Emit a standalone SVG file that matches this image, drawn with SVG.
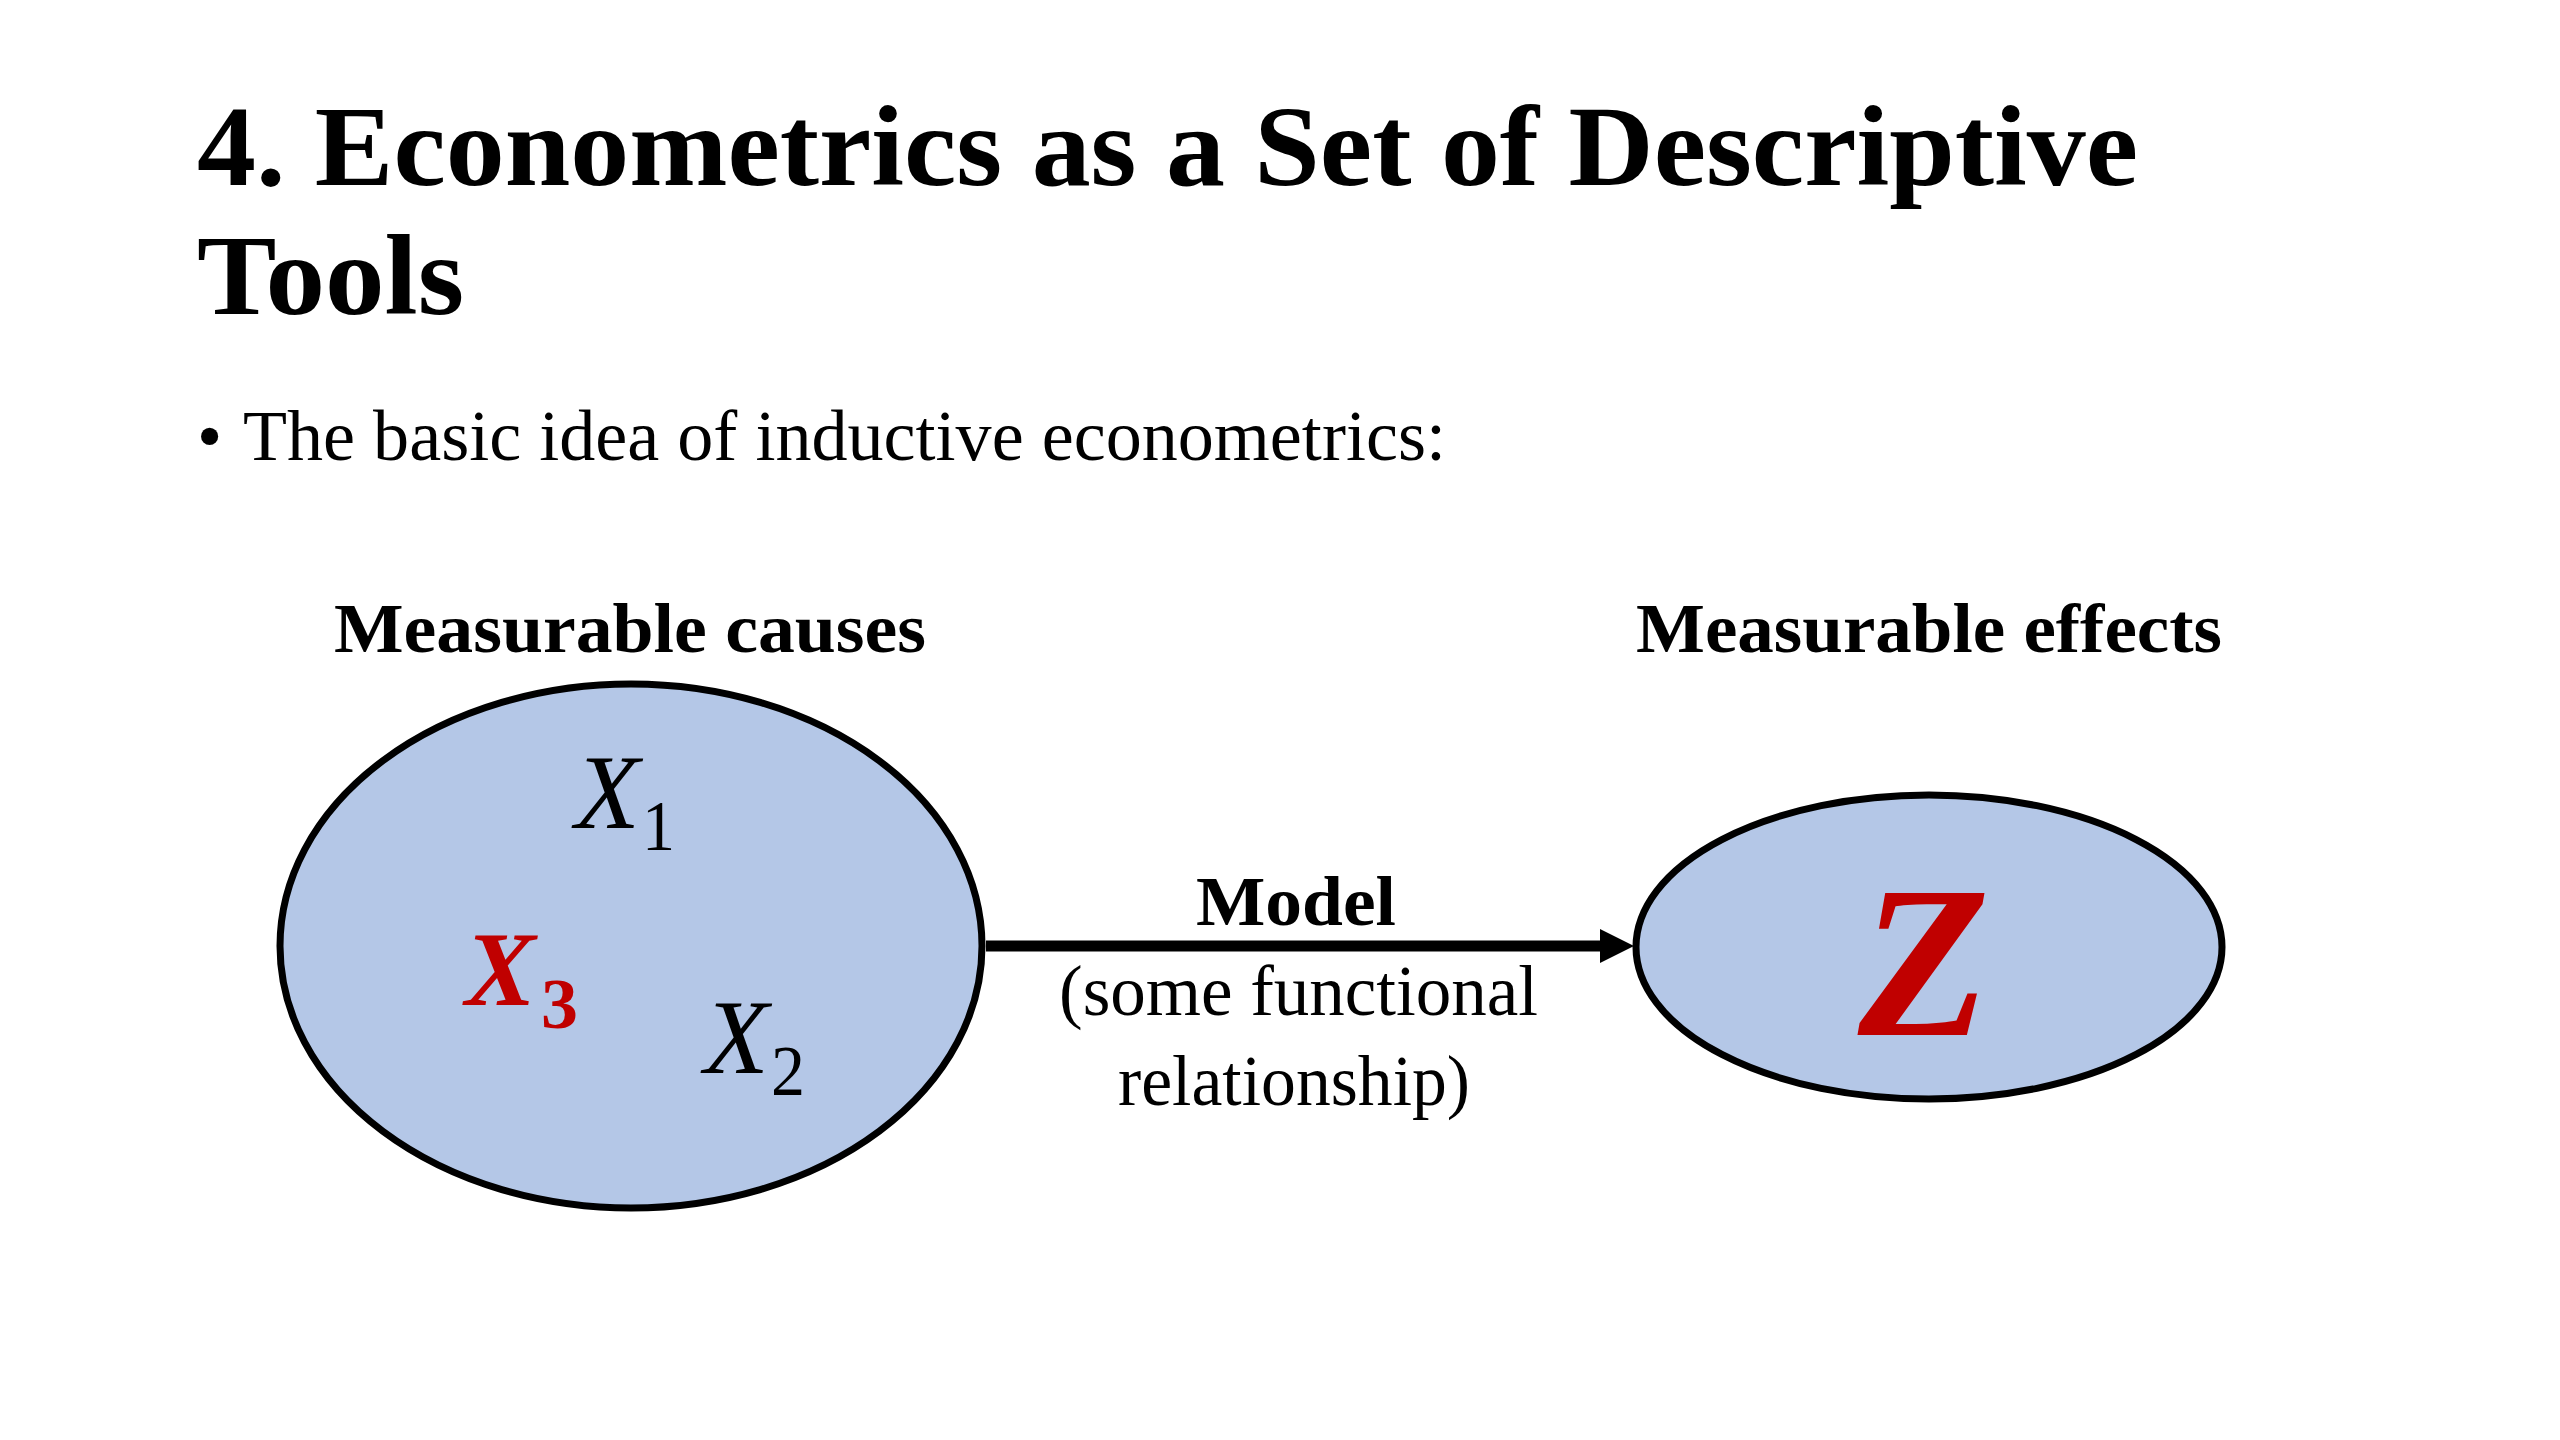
<svg xmlns="http://www.w3.org/2000/svg" width="2560" height="1440" viewBox="0 0 2560 1440">
<style>
  .serif { font-family: "Liberation Serif", "DejaVu Serif", serif; fill: #000; }
  .title { font-size: 114px; font-weight: bold; }
  .body { font-size: 72px; }
  .label { font-size: 70px; font-weight: bold; }
  .node { fill: #B4C7E7; stroke: #000; stroke-width: 7; }
  .var { font-size: 106px; font-style: italic; }
  .sub { font-size: 72px; }
  .red { fill: #C00000; }
  .conn { stroke: #000; stroke-width: 11; fill: none; }
</style>
<defs>
  <marker id="arrow" markerUnits="userSpaceOnUse" markerWidth="36" markerHeight="36" refX="0" refY="17" orient="auto">
    <path d="M0,0 L34,17 L0,34 Z" fill="#000"/>
  </marker>
</defs>
<rect x="0" y="0" width="2560" height="1440" fill="#FFFFFF"/>

<g id="title">
  <text class="serif title" x="197" y="185" textLength="1941" lengthAdjust="spacingAndGlyphs">4. Econometrics as a Set of Descriptive</text>
  <text class="serif title" x="197" y="314" textLength="267" lengthAdjust="spacingAndGlyphs">Tools</text>
</g>

<g id="bullet">
  <text class="serif body" x="197" y="460">•</text>
  <text class="serif body" x="243" y="460" textLength="1203" lengthAdjust="spacingAndGlyphs">The basic idea of inductive econometrics:</text>
</g>

<g id="connectors">
  <line class="conn" x1="986" y1="946" x2="1600" y2="946" marker-end="url(#arrow)"/>
  <text class="serif label" x="1196" y="925" textLength="200" lengthAdjust="spacingAndGlyphs">Model</text>
  <text class="serif body" x="1059" y="1015" textLength="479" lengthAdjust="spacingAndGlyphs">(some functional</text>
  <text class="serif body" x="1118" y="1105" textLength="352" lengthAdjust="spacingAndGlyphs">relationship)</text>
</g>

<g id="causes">
  <text class="serif label" x="334" y="652" textLength="592" lengthAdjust="spacingAndGlyphs">Measurable causes</text>
  <ellipse class="node" cx="631" cy="946" rx="351" ry="262"/>
  <g id="x1">
    <text class="serif var" x="575" y="828">X</text>
    <text class="serif sub" x="642" y="850" textLength="33" lengthAdjust="spacingAndGlyphs">1</text>
  </g>
  <g id="x2">
    <text class="serif var" x="704" y="1073">X</text>
    <text class="serif sub" x="771" y="1095" textLength="34" lengthAdjust="spacingAndGlyphs">2</text>
  </g>
  <g id="x3">
    <text class="serif var red" font-weight="bold" x="465" y="1005">X</text>
    <text class="serif sub red" font-weight="bold" font-size="82" x="541" y="1028" textLength="37" lengthAdjust="spacingAndGlyphs">3</text>
  </g>
</g>

<g id="effects">
  <text class="serif label" x="1636" y="652" textLength="586" lengthAdjust="spacingAndGlyphs">Measurable effects</text>
  <ellipse class="node" cx="1929" cy="947" rx="293" ry="152"/>
  <text class="serif red" font-size="216" font-weight="bold" font-style="italic" x="1924" y="1035" text-anchor="middle">Z</text>
</g>
</svg>
